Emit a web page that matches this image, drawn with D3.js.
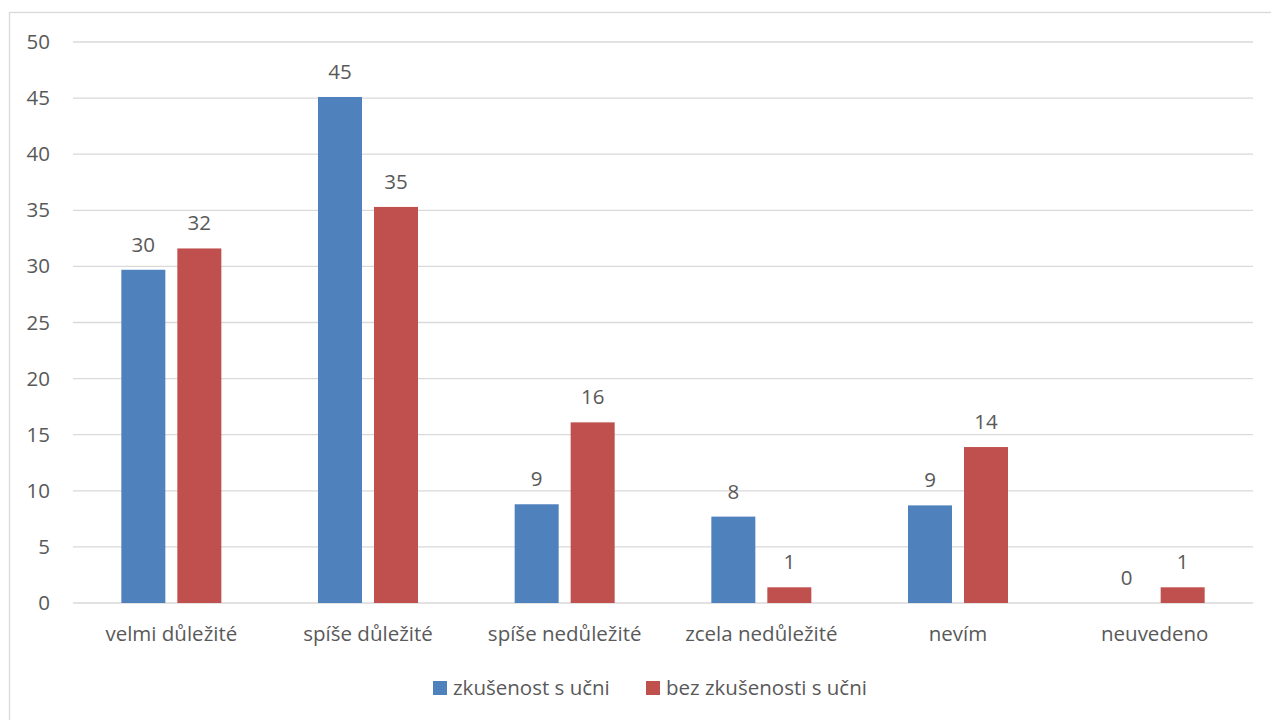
<!DOCTYPE html>
<html><head><meta charset="utf-8">
<script src="https://cdn.jsdelivr.net/npm/d3@7"></script>
<style>
html,body{margin:0;padding:0;background:#fff;}
text{font-family:"Open Sans",sans-serif;fill:#595959;}
</style></head>
<body><svg id="chart" width="1271" height="720"></svg>
<script>
const categories = ["velmi důležité","spíše důležité","spíše nedůležité","zcela nedůležité","nevím","neuvedeno"];
const seriesNames = ["zkušenost s učni","bez zkušenosti s učni"];
const seriesColors = ["#4f81bd","#c0504d"];
const withExperience = [29.7, 45.1, 8.8, 7.7, 8.7, 0];
const withoutExperience = [31.6, 35.3, 16.1, 1.4, 13.9, 1.4];
const yTicks = [0,5,10,15,20,25,30,35,40,45,50];

(function(){
const FS = "20.5px";
const svg = d3.select("#chart");
// outer chart border
svg.append("rect").attr("x",9.5).attr("y",12.5).attr("width",1300).attr("height",800)
  .attr("fill","none").attr("stroke","#d9d9d9").attr("stroke-width",1.3);

const pl=73, pr=1253, pt=42, pb=603;
const x = d3.scaleBand().domain(categories).range([pl,pr]);
const xs = d3.scaleBand().domain([0,1]).range([0,100]).paddingInner(0.2143);
const y = d3.scaleLinear().domain([0,50]).range([pb,pt]);

const grid = svg.append("g");
grid.selectAll("line").data(yTicks).join("line")
  .attr("x1",pl).attr("x2",pr)
  .attr("y1",d=>y(d)).attr("y2",d=>y(d))
  .attr("stroke","#d9d9d9").attr("stroke-width",1.3);

const yAxis = d3.axisLeft(y).tickValues(yTicks).tickSize(0).tickPadding(0);
const ga = svg.append("g").attr("transform","translate(50,0)").call(yAxis);
ga.select(".domain").remove();
ga.selectAll("text").style("font-size",FS).attr("fill","#595959").style("font-family","Open Sans");

const xAxis = d3.axisBottom(x).tickSize(0).tickPadding(0);
const gx = svg.append("g").attr("transform","translate(0,641)").call(xAxis);
gx.select(".domain").remove();
gx.selectAll("text").attr("dy",0).style("font-size",FS).attr("fill","#595959").style("font-family","Open Sans");

const series = [withExperience, withoutExperience];
const fmt = d3.format(".0f");
series.forEach((vals,si)=>{
  const g = svg.append("g");
  const data = categories.map((c,i)=>({c, v: vals[i]}));
  g.selectAll("rect").data(data).join("rect")
    .attr("x",d=>x(d.c)+x.bandwidth()/2-50+xs(si))
    .attr("width",xs.bandwidth())
    .attr("y",d=>y(d.v))
    .attr("height",d=>y(0)-y(d.v))
    .attr("fill",seriesColors[si]);
  g.selectAll("text").data(data).join("text")
    .attr("x",d=>x(d.c)+x.bandwidth()/2-50+xs(si)+xs.bandwidth()/2)
    .attr("y",d=>y(d.v)-18)
    .attr("text-anchor","middle")
    .style("font-size",FS)
    .text(d=>fmt(d.v));
});

// legend
const legX = [433, 646];
const leg = svg.append("g");
seriesNames.forEach((n,i)=>{
  leg.append("rect").attr("x",legX[i]).attr("y",681).attr("width",14).attr("height",14).attr("fill",seriesColors[i]);
  leg.append("text").attr("x",legX[i]+20).attr("y",695).style("font-size",FS).text(n);
});
})();
</script></body></html>
